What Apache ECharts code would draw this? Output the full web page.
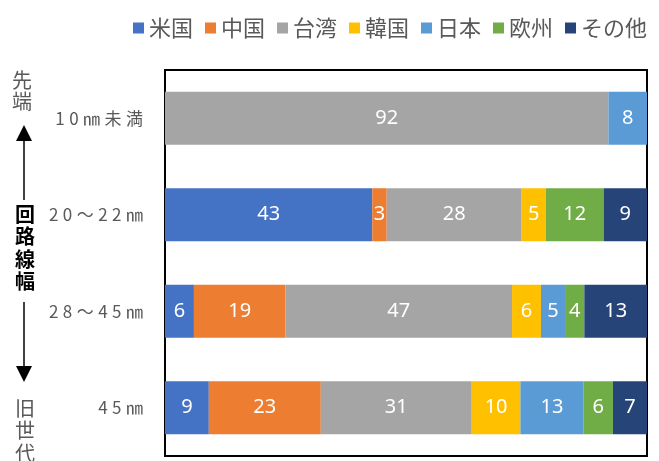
<!DOCTYPE html>
<html>
<head>
<meta charset="utf-8">
<script src="https://cdn.jsdelivr.net/npm/echarts@6/dist/echarts.min.js"></script>
<style>html,body{margin:0;padding:0;background:#fff;}#c{width:659px;height:461px;}</style>
</head>
<body>
<div id="c"></div>
<script>
var categories = ['10㎚未満', '20～22㎚', '28～45㎚', '45㎚'];
var seriesNames = ['米国', '中国', '台湾', '韓国', '日本', '欧州', 'その他'];
var usa    = [0, 43, 6, 9];
var china  = [0, 3, 19, 23];
var taiwan = [92, 28, 47, 31];
var korea  = [0, 5, 6, 10];
var japan  = [8, 0, 5, 13];
var europe = [0, 12, 4, 6];
var others = [0, 9, 13, 7];
var colors = ['#4472C4', '#ED7D31', '#A5A5A5', '#FFC000', '#5B9BD5', '#70AD47', '#264478'];

var allVals = [usa, china, taiwan, korea, japan, europe, others];
var totals = categories.map(function (c, i) {
  return allVals.reduce(function (s, a) { return s + a[i]; }, 0);
});

var chart = echarts.init(document.getElementById('c'));
var series = seriesNames.map(function (name, k) {
  var raw = allVals[k];
  return {
    name: name,
    type: 'bar',
    stack: 'total',
    barWidth: '55%',
    itemStyle: { color: colors[k] },
    label: {
      show: true,
      position: 'inside',
      color: '#fff',
      fontSize: 20,
      fontFamily: 'Noto Sans',
      formatter: function (p) { var v = raw[p.dataIndex]; return v ? String(v) : ''; }
    },
    data: raw.map(function (v, i) { return v / totals[i] * 100; })
  };
});

function spaced(s) { return s.split('').join('\u2009\u200A'); }

chart.setOption({
  animation: false,
  color: colors,
  legend: {
    top: 12, left: 128,
    itemWidth: 11, itemHeight: 11, itemGap: 12,
    icon: 'rect',
    textStyle: { fontSize: 22, color: '#595959', fontFamily: 'Noto Sans CJK JP' },
    data: seriesNames
  },
  grid: { left: 165, right: 12, top: 70, bottom: 5, show: true, borderColor: '#000', borderWidth: 2, containLabel: false },
  xAxis: { type: 'value', min: 0, max: 100, show: false },
  yAxis: {
    type: 'category', inverse: true, data: categories,
    axisLine: { show: false }, axisTick: { show: false },
    axisLabel: { margin: 22, fontSize: 17, color: '#595959', fontFamily: 'Noto Sans CJK JP', formatter: function (v) { return spaced(v); } }
  },
  graphic: [
    { type: 'text', left: 12, top: 70, style: { text: '先\n端', font: '20px "Noto Sans CJK JP"', fill: '#595959', lineHeight: 21 } },
    { type: 'polygon', shape: { points: [[24, 125], [16, 141], [32, 141]] }, style: { fill: '#000' } },
    { type: 'line', shape: { x1: 24, y1: 140, x2: 24, y2: 200 }, style: { stroke: '#000', lineWidth: 1.5 } },
    { type: 'text', left: 15, top: 203, style: { text: '回\n路\n線\n幅', font: 'bold 20px "Noto Sans CJK JP"', fill: '#000', lineHeight: 22.5 } },
    { type: 'line', shape: { x1: 24, y1: 302, x2: 24, y2: 367 }, style: { stroke: '#000', lineWidth: 1.5 } },
    { type: 'polygon', shape: { points: [[24, 382], [16, 366], [32, 366]] }, style: { fill: '#000' } },
    { type: 'text', left: 15, top: 397, style: { text: '旧\n世\n代', font: '20px "Noto Sans CJK JP"', fill: '#595959', lineHeight: 22.5 } }
  ],
  series: series
});
</script>
</body>
</html>
